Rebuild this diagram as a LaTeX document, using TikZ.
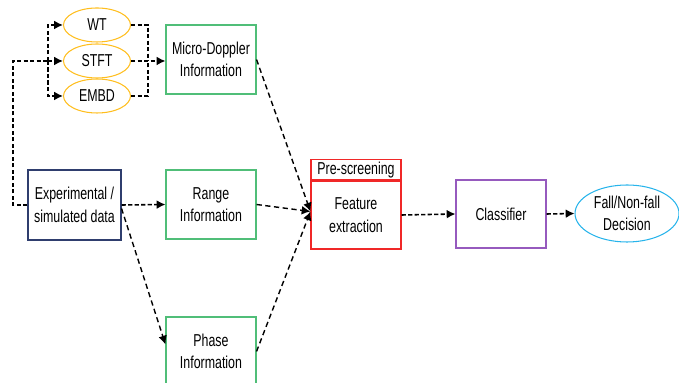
\documentclass[tikz,border=0pt]{standalone}
\usepackage{fontspec}
\setmainfont{Liberation Sans}[FakeStretch=0.72]
\usetikzlibrary{calc,positioning,arrows.meta,shapes.geometric}

\definecolor{infogreen}{RGB}{80,190,120}
\definecolor{datablue}{RGB}{47,62,110}
\definecolor{prered}{RGB}{240,40,40}
\definecolor{clspurple}{RGB}{150,90,190}
\definecolor{tfgold}{RGB}{255,190,30}
\definecolor{decblue}{RGB}{40,180,235}

\begin{document}
\begin{tikzpicture}[
    font=\fontsize{9.8}{12.8}\selectfont,
    box/.style={draw, line width=0.6pt, minimum width=1.8cm, minimum height=1.38cm, align=center, inner sep=1pt},
    tf/.style={draw=tfgold, ellipse, line width=0.6pt, minimum width=1.34cm, minimum height=0.68cm, inner sep=0pt},
    flow/.style={line width=0.9pt, dash pattern=on 2.5pt off 1.2pt, -{Latex[length=5pt,width=5pt]}},
    link/.style={line width=0.9pt, dash pattern=on 2.5pt off 1.2pt},
    slant/.style={line width=0.8pt, dash pattern=on 3pt off 2pt, -{Latex[length=5pt,width=5pt]}}
  ]
        \useasboundingbox (0,0) rectangle (13.58,7.66);

        % Input data
        \node[box, draw=datablue, minimum width=1.86cm, minimum height=1.4cm] (Data) at (1.49,3.56) {Experimental /\\simulated data};

        % Time-frequency transforms
        \node[tf] (WT) at (1.94,7.16) {WT};
        \node[tf] (STFT) at (1.94,6.44) {STFT};
        \node[tf] (EMBD) at (1.94,5.74) {EMBD};

        % Information boxes
        \node[box, draw=infogreen] (MicroDoppler) at (4.22,6.47) {Micro-Doppler\\Information};
        \node[box, draw=infogreen] (Range) at (4.22,3.57) {Range\\Information};
        \node[box, draw=infogreen] (Phase) at (4.22,0.63) {Phase\\Information};

        % Feature extraction with pre-screening band on top
        \node[box, draw=prered, minimum height=1.36cm] (Feature) at (7.12,3.36) {Feature\\extraction};
        \node[box, draw=prered, minimum height=0.4cm, inner sep=0pt, anchor=south] (PreScreen) at (Feature.north) {Pre-screening};

        % Classification
        \node[box, draw=clspurple, minimum height=1.36cm] (Classifier) at (10.02,3.38) {Classifier};
        \node[draw=decblue, ellipse, line width=0.6pt, minimum width=2.08cm, minimum height=1.14cm, inner sep=0pt, align=center] (Decision) at (12.54,3.39) {Fall/Non-fall\\Decision};

        % Split and merge points round the transforms
        \coordinate (Trunk) at (0.26,6.44);
        \coordinate (Split) at (0.96,6.44);
        \coordinate (Merge) at (2.96,6.44);

        \draw[link] (Data.west) -- (Data.west -| Trunk) -- (Trunk) -- (Split);
        \draw[flow] (Split) -- (STFT);
        \draw[flow] (Split) |- (WT);
        \draw[flow] (Split) |- (EMBD);
        \draw[link] (WT) -| (Merge);
        \draw[link] (EMBD) -| (Merge);
        \draw[flow] (STFT) -- (STFT -| MicroDoppler.west);

        % Data to information
        \draw[flow] (Data.east) -- (Range.west);
        \draw[slant] ([yshift=-2pt]Data.east) -- ([yshift=4pt]Phase.west);

        % Information to features
        \draw[slant] (MicroDoppler.east) -- ([yshift=2pt]Feature.west);
        \draw[slant] (Range.east) -- ([yshift=2pt]Feature.west);
        \draw[slant] (Phase.east) -- ([yshift=2pt]Feature.west);

        \draw[flow] (Feature.east) -- (Classifier.west);
        \draw[flow] (Classifier.east) -- (Decision.west);
\end{tikzpicture}
\end{document}
